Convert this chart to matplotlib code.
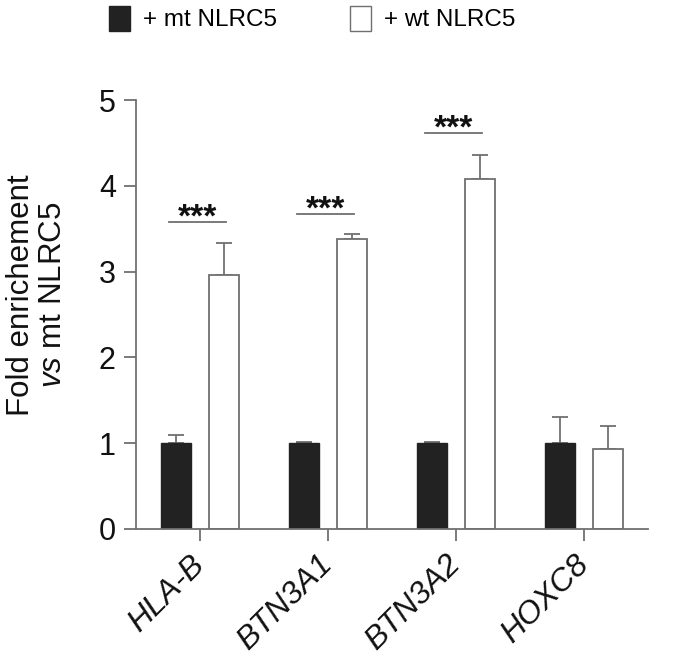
import matplotlib.pyplot as plt
import numpy as np
from matplotlib.patches import Patch

plt.rcParams['font.family'] = ['Liberation Sans', 'DejaVu Sans']
plt.rcParams['mathtext.fontset'] = 'custom'
plt.rcParams['mathtext.rm'] = 'Liberation Sans'
plt.rcParams['mathtext.it'] = 'Liberation Sans:italic'

# data
genes = ['HLA-B', 'BTN3A1', 'BTN3A2', 'HOXC8']
mt_mean = [1.0, 1.0, 1.0, 1.0]
mt_err = [0.09, 0.01, 0.01, 0.30]
wt_mean = [2.96, 3.376, 4.08, 0.93]
wt_err = [0.37, 0.06, 0.28, 0.27]
sig_y = [3.58, 3.67, 4.61]
sig_text = ['***', '***', '***']

grey = '#707070'
dark = '#222222'

fig = plt.figure(figsize=(6.94, 6.6), dpi=100)
ax = fig.add_axes([136 / 694, 1 - 529 / 660, 512 / 694, 429 / 660])

x = np.arange(len(genes))
w = 0.24
off = 0.1875

ax.bar(x - off, mt_mean, w, color=dark, edgecolor=dark, linewidth=1.0, zorder=2)
ax.bar(x + off, wt_mean, w, color='white', edgecolor=grey, linewidth=1.3, zorder=2)
ax.errorbar(x - off, mt_mean, yerr=[np.zeros(4), mt_err], fmt='none',
            ecolor=grey, elinewidth=1.3, capsize=5.8, capthick=1.3, zorder=1)
ax.errorbar(x + off, wt_mean, yerr=[np.zeros(4), wt_err], fmt='none',
            ecolor=grey, elinewidth=1.3, capsize=5.8, capthick=1.3, zorder=1)

# significance
for i, (yy, s) in enumerate(zip(sig_y, sig_text)):
    x0, x1 = i - 0.245, i + 0.2
    ax.plot([x0, x1], [yy, yy], color=grey, lw=1.3)
    ax.text((x0 + x1) / 2, yy - 0.05, s, ha='center', va='baseline',
            fontsize=24, fontweight='bold', color='#111111')

ax.set_xlim(-0.5, 3.5)
ax.set_ylim(0, 5)
ax.set_yticks([0, 1, 2, 3, 4, 5])
ax.set_xticks(x)
ax.set_xticklabels(genes, rotation=45, ha='right', va='center',
                   rotation_mode='anchor', style='italic', fontsize=23)
for sp in ['top', 'right']:
    ax.spines[sp].set_visible(False)
for sp in ['left', 'bottom']:
    ax.spines[sp].set_color(grey)
    ax.spines[sp].set_linewidth(1.3)
ax.tick_params(axis='both', color=grey, width=1.3, length=8.5, labelsize=22,
               labelcolor='#111111')
ax.tick_params(axis='x', labelsize=23, pad=14)
ax.tick_params(axis='y', pad=6)

ax.set_ylabel('Fold enrichement\n$\\it{vs}$ mt NLRC5', fontsize=22.5,
              color='#111111', linespacing=1.1)
ax.yaxis.set_label_coords(-0.132, 0.545)

handles = [Patch(facecolor=dark, edgecolor=dark, label='+ mt NLRC5'),
           Patch(facecolor='white', edgecolor=grey, label='+ wt NLRC5')]
fig.legend(handles=handles, loc='center', bbox_to_anchor=(0.45, 0.972),
           ncol=2, frameon=False, fontsize=17.5, handlelength=0.85,
           handleheight=1.2, handletextpad=0.55, columnspacing=3.0)

fig.savefig('out.png', dpi=100)
